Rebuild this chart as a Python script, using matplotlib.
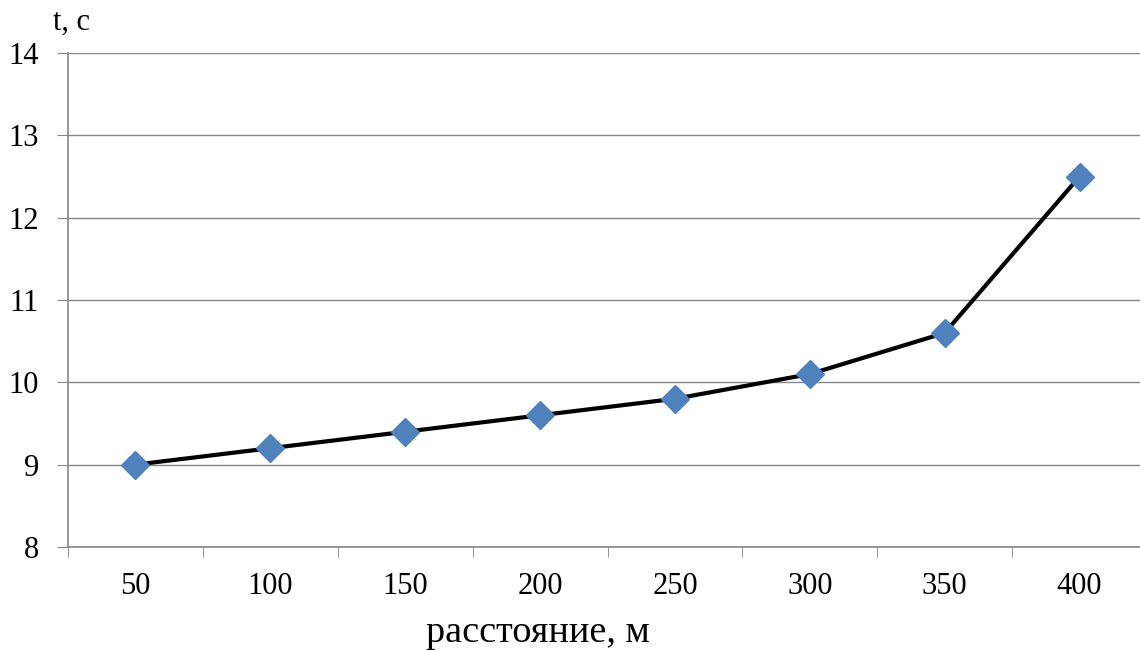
import numpy as np
import matplotlib.pyplot as plt

plt.rcParams['font.family'] = ['Liberation Serif', 'DejaVu Serif']

distances = ['50', '100', '150', '200', '250', '300', '350', '400']
times = [9.0, 9.2, 9.4, 9.6, 9.8, 10.1, 10.6, 12.5]

fig = plt.figure(figsize=(11.4, 6.5), dpi=100)
ax = fig.add_axes([68 / 1140, 1 - 547 / 650, 1 - 68 / 1140, (547 - 53) / 650])

x = np.arange(1, len(distances) + 1)
ax.plot(x, times, color='black', lw=3, zorder=3)
ax.plot(x, times, ls='none', marker='D', ms=14, color='#4F81BD', zorder=4)

grid_c = '#868686'
ax.set_ylim(8, 14)
ax.set_yticks(range(8, 15))
ax.set_xlim(0.5, 8.5 - 7 / 134.86)
ax.set_xticks(x)
ax.set_xticklabels(distances)
ax.set_xticks(np.arange(0.5, 8.5, 1), minor=True)
ax.yaxis.grid(True, color=grid_c, lw=1)
ax.set_axisbelow(True)

for s in ['top', 'right']:
    ax.spines[s].set_visible(False)
for s in ['left', 'bottom']:
    ax.spines[s].set_color(grid_c)
    ax.spines[s].set_linewidth(1.2)

ax.tick_params(axis='y', length=8, color=grid_c, labelsize=22, pad=13)
ax.tick_params(axis='x', which='major', length=0, labelsize=22, pad=18)
ax.tick_params(axis='x', which='minor', length=7, color=grid_c)

fig.text(53 / 1140, 1 - 22 / 650, 't, c', fontsize=22, va='center', ha='left')
fig.text(538 / 1140, 1 - 633 / 650, 'расстояние, м', fontsize=27.5, va='center', ha='center')

fig.savefig('out.png', dpi=100)
